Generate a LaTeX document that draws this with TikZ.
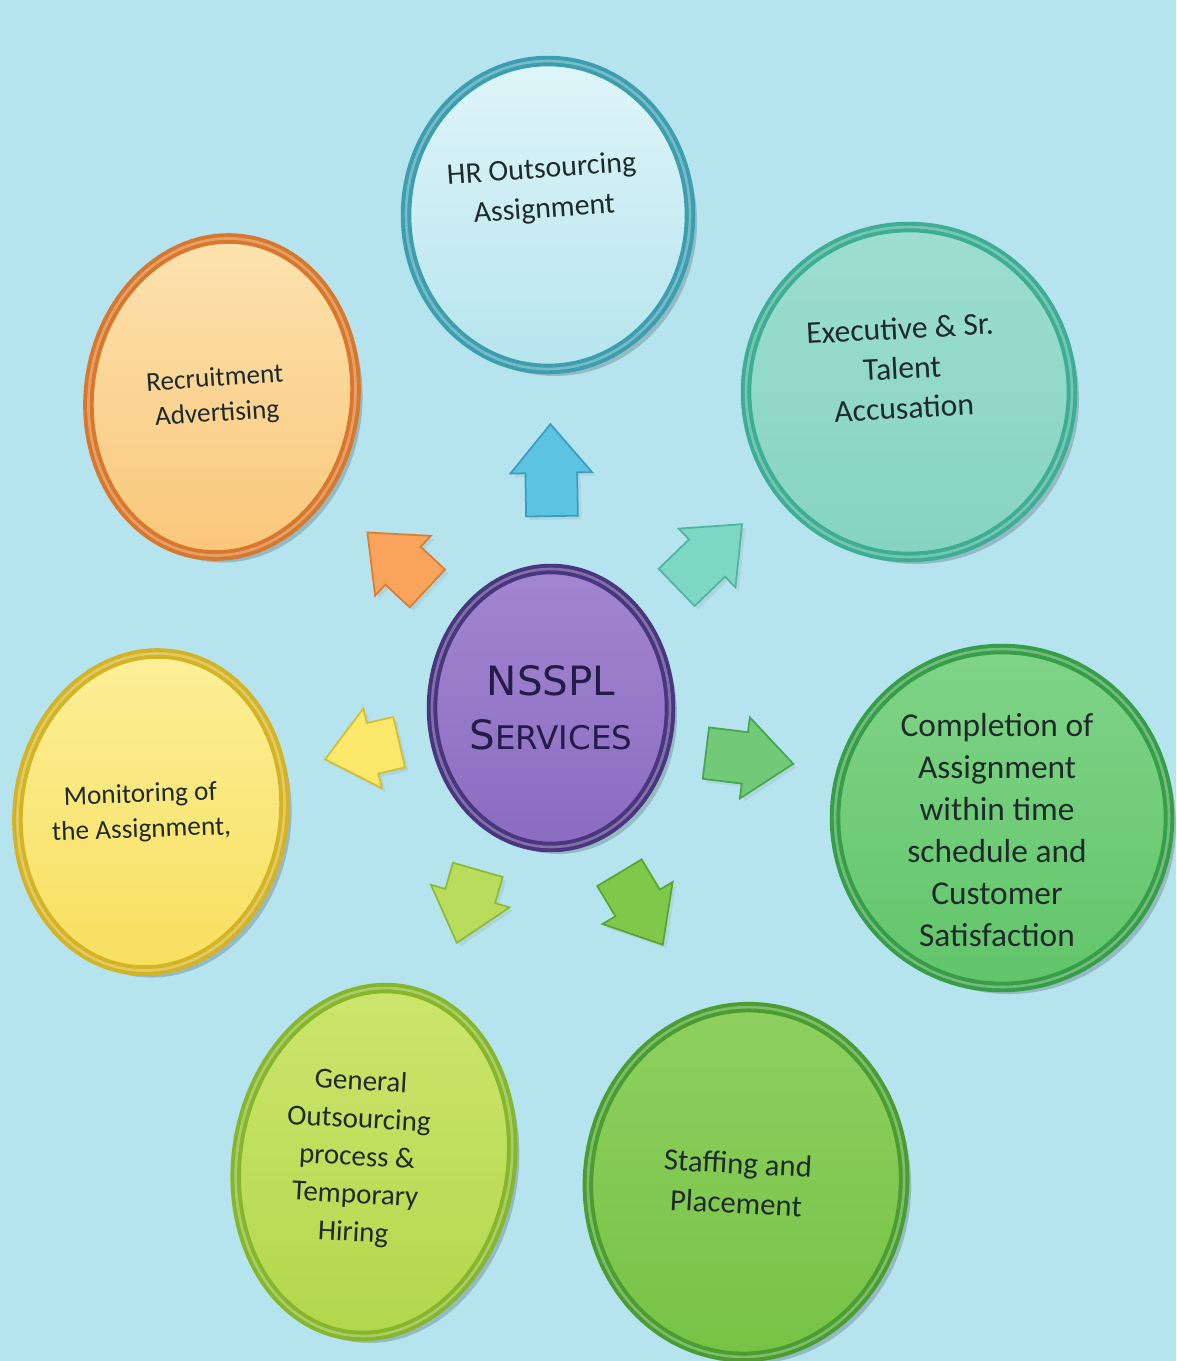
\documentclass[tikz,border=0pt]{standalone}
\usepackage{fontspec}
\setmainfont{Carlito}
\newfontfamily\hubfont{DejaVu Sans}
\usetikzlibrary{shapes.geometric,shapes.arrows,shadows}

\definecolor{bgblue}{HTML}{B5E4EE}
\definecolor{ink}{HTML}{1F2B2A}
\definecolor{hubink}{HTML}{231C48}
% fill (light, base) and rim of each disc
\definecolor{hrA}{HTML}{DFF5F9}\definecolor{hrB}{HTML}{B6E5EE}\definecolor{hrR}{HTML}{3C9EAF}
\definecolor{exA}{HTML}{9DDECF}\definecolor{exB}{HTML}{86D3C1}\definecolor{exR}{HTML}{3DAE93}
\definecolor{reA}{HTML}{FDE3B0}\definecolor{reB}{HTML}{F9C77A}\definecolor{reR}{HTML}{D9782C}
\definecolor{moA}{HTML}{FCF09A}\definecolor{moB}{HTML}{F8DF5E}\definecolor{moR}{HTML}{D4B424}
\definecolor{coA}{HTML}{7FD487}\definecolor{coB}{HTML}{62C56A}\definecolor{coR}{HTML}{379E48}
\definecolor{geA}{HTML}{CDE66E}\definecolor{geB}{HTML}{B2D74C}\definecolor{geR}{HTML}{86B62A}
\definecolor{stA}{HTML}{8FD060}\definecolor{stB}{HTML}{76C346}\definecolor{stR}{HTML}{4A9E30}
\definecolor{huA}{HTML}{A286D0}\definecolor{huB}{HTML}{8A6CC0}\definecolor{huR}{HTML}{4A3580}
% arrows
\definecolor{arBlue}{HTML}{5CC4E2}\definecolor{arBlueE}{HTML}{3A9DC0}
\definecolor{arOrange}{HTML}{F9A35C}\definecolor{arOrangeE}{HTML}{D97E32}
\definecolor{arTeal}{HTML}{7ED7C4}\definecolor{arTealE}{HTML}{4FB59F}
\definecolor{arYellow}{HTML}{FCE96C}\definecolor{arYellowE}{HTML}{D6BE30}
\definecolor{arGreen}{HTML}{72CA78}\definecolor{arGreenE}{HTML}{47A650}
\definecolor{arLime}{HTML}{B9DC5C}\definecolor{arLimeE}{HTML}{8EBA38}
\definecolor{arLeaf}{HTML}{80C84A}\definecolor{arLeafE}{HTML}{58A630}

\tikzset{
  disc/.style n args={3}{ellipse, inner sep=0pt, top color=#1, bottom color=#2,
    draw=#3, line width=6pt,
    general shadow={fill=black, opacity=.18, shadow xshift=4pt, shadow yshift=-4pt},
    postaction={draw=white, line width=1.5pt, draw opacity=.3}},
  txt/.style 2 args={align=center, text=ink, font=\fontsize{#1}{#2}\selectfont},
  push/.style 2 args={single arrow, anchor=tail, inner xsep=0pt, inner ysep=0.5cm,
    single arrow head extend=0.3cm, single arrow tip angle=80,
    fill=#1, draw=#2, line width=1pt,
    drop shadow={opacity=.15, shadow xshift=2pt, shadow yshift=-2pt}},
}

\begin{document}
\begin{tikzpicture}[x=0.02cm, y=-0.02cm]
  \fill[bgblue] (0,0) rectangle (1176,1361);
  \useasboundingbox (0,0) rectangle (1176,1361);

  % discs
  \node[disc={hrA}{hrB}{hrR}, minimum width=5.68cm, minimum height=6.16cm] (hr) at (548,215) {};
  \node[disc={exA}{exB}{exR}, minimum width=6.52cm, minimum height=6.6cm] (exec) at (909,392) {};
  \node[disc={reA}{reB}{reR}, minimum width=5.32cm, minimum height=6.36cm, rotate=-8] (recruit) at (222,397) {};
  \node[disc={moA}{moB}{moR}, minimum width=5.32cm, minimum height=6.36cm, rotate=-8] (monitor) at (151,812) {};
  \node[disc={coA}{coB}{coR}, minimum width=6.68cm, minimum height=6.76cm] (complete) at (1002,818) {};
  \node[disc={geA}{geB}{geR}, minimum width=5.48cm, minimum height=7cm, rotate=-10] (general) at (374,1162) {};
  \node[disc={stA}{stB}{stR}, minimum width=6.32cm, minimum height=7cm, rotate=-5] (staffing) at (746,1182) {};
  \node[disc={huA}{huB}{huR}, minimum width=4.76cm, minimum height=5.56cm] (hub) at (551,708) {};

  % texts
  \node[txt={17}{22.7}, rotate=4] (hrT) at (543,190) {HR Outsourcing\\Assignment};
  \node[txt={18}{22.7}, rotate=3] (execT) at (902,368) {Executive \& Sr.\\Talent\\Accusation};
  \node[txt={15.5}{20}, rotate=4] (recruitT) at (216,397) {Recruitment\\Advertising};
  \node[txt={15.5}{20}, rotate=2] (monitorT) at (141,813) {Monitoring of\\the Assignment,};
  \node[txt={19}{23.8}] (completeT) at (997,830) {Completion of\\Assignment\\within time\\schedule and\\Customer\\Satisfaction};
  \node[txt={16.5}{21.5}, rotate=-3] (generalT) at (357,1158) {General\\Outsourcing\\process \&\\Temporary\\Hiring};
  \node[txt={17.5}{22.7}, rotate=-3] (staffingT) at (737,1183) {Staffing and\\Placement};
  \node[align=center, text=hubink, font=\hubfont\fontsize{23}{31}\selectfont] (hubT) at (551,708)
    {NSSPL\\S{\fontsize{18.5}{31}\selectfont ERVICES}};

  % arrows out of the hub (placed by their tails)
  \node[push={arBlue}{arBlueE}, minimum height=1.84cm, rotate=91] (upA) at (552,517) {};
  \node[push={arOrange}{arOrangeE}, minimum height=1.64cm, rotate=137] (ulA) at (428,589) {};
  \node[push={arTeal}{arTealE}, minimum height=1.82cm, rotate=44] (urA) at (676,588) {};
  \node[push={arYellow}{arYellowE}, minimum height=1.52cm, rotate=193] (leftA) at (400,742) {};
  \node[push={arGreen}{arGreenE}, minimum height=1.76cm, rotate=-7] (rightA) at (705,753) {};
  \node[push={arLime}{arLimeE}, minimum height=1.52cm, rotate=254] (dlA) at (478,869) {};
  \node[push={arLeaf}{arLeafE}, minimum height=1.68cm, rotate=-59] (drA) at (619,872) {};
\end{tikzpicture}
\end{document}
